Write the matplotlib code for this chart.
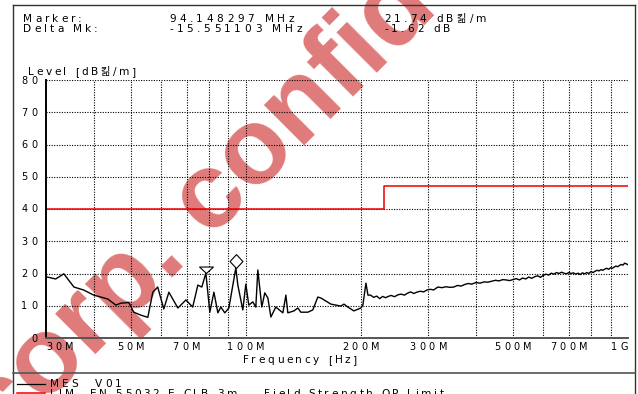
import matplotlib
matplotlib.use("Agg")
from matplotlib import pyplot as plt
from matplotlib.lines import Line2D
from matplotlib.path import Path
from matplotlib.ticker import NullLocator

# measured trace (MHz, dB)
freq_mhz = [
    30.0, 31.8, 33.4, 35.5, 37.6, 40.0, 43.5, 45.7, 47.1, 49.4,
    50.9, 53.1, 55.4, 57.1, 58.8, 61.0, 62.9, 66.4, 69.7, 72.6,
    74.9, 76.7, 78.597194, 80.5, 82.5, 84.5, 86.0, 88.1, 90.3, 94.148297,
    95.3, 98.2, 100.0, 101.8, 104.3, 106.2, 107.5, 110.1, 112.1, 114.2,
    116.3, 119.8, 125.0, 127.3, 128.8, 133.6, 136.8, 139.3, 145.3, 149.7,
    154.3, 157.2, 167.0, 177.3, 180.6, 184.9, 191.7, 200.0, 202.4, 206.2,
    208.7, 212.0, 216, 220, 224, 228, 232, 236, 240, 245,
    250, 255, 260, 265, 270, 275, 280, 286, 292, 298,
    304, 310, 318, 326, 334, 342, 350, 358, 366, 374,
    382, 390, 400, 410, 420, 430, 440, 450, 460, 470,
    480, 490, 500, 510, 520, 530, 540, 550, 560, 570,
    580, 590, 600, 610, 620, 630, 640, 650, 660, 670,
    680, 690, 700, 710, 720, 730, 740, 750, 760, 770,
    780, 790, 800, 810, 820, 830, 840, 850, 860, 870,
    880, 890, 900, 910, 920, 930, 940, 950, 960, 970,
    980, 990, 1000,
]
level_db = [
    19.0, 18.3, 19.9, 15.8, 14.9, 13.3, 12.1, 10.2, 10.8, 11.0,
    8.0, 7.1, 6.4, 14.2, 15.8, 9.0, 14.2, 9.3, 11.8, 9.6,
    16.4, 15.8, 20.12, 8.0, 14.2, 7.8, 9.6, 7.8, 9.3, 21.74,
    16.4, 8.7, 16.7, 10.2, 11.2, 9.6, 21.1, 9.6, 14.0, 12.4,
    6.5, 9.6, 7.8, 13.3, 7.8, 8.4, 9.3, 8.0, 8.0, 8.7,
    12.7, 12.4, 10.5, 9.9, 10.5, 9.6, 8.4, 9.3, 10.2, 17.0,
    13.3, 13.3, 12.6, 13.0, 12.2, 12.9, 12.5, 12.9, 13.2, 12.8,
    13.4, 13.6, 13.3, 13.9, 14.3, 13.8, 14.2, 14.5, 14.3, 14.9,
    15.1, 14.9, 15.8, 15.6, 15.9, 15.7, 15.8, 16.3, 16.1, 16.6,
    16.9, 16.7, 17.2, 17.0, 17.4, 17.3, 17.6, 17.9, 17.7, 18.1,
    18.0, 17.8, 18.1, 18.4, 18.0, 18.6, 18.3, 18.9, 18.5, 19.0,
    19.3, 18.8, 19.4, 19.8, 19.5, 20.1, 19.8, 20.3, 20.0, 20.4,
    20.1, 19.9, 20.3, 20.0, 20.2, 19.8, 20.1, 19.7, 20.2, 19.9,
    20.3, 20.0, 20.6, 20.3, 20.7, 21.0, 20.8, 21.2, 21.0, 21.4,
    21.6, 21.3, 21.8, 21.6, 22.0, 22.3, 22.1, 22.5, 22.8, 22.6,
    23.2, 23.0, 22.7,
]

# QP limit, EN 55032 class B at 3 m
limit_freq = [30, 230, 230, 1000]
limit_db = [40, 40, 47, 47]

marker_freq = 94.148297
marker_db = 21.74
delta_freq = -15.551103
delta_db = -1.62

grid_freqs = [40, 50, 60, 70, 80, 90, 100, 200, 300, 400, 500, 600, 700, 800, 900, 1000]
xtick_freqs = [30, 50, 70, 100, 200, 300, 500, 700, 1000]
xtick_labels = ["30M", "50M", "70M", "100M", "200M", "300M", "500M", "700M", "1G"]
ytick_values = [0, 10, 20, 30, 40, 50, 60, 70, 80]

unit = "dB" + b"\xb5V/m".decode("cp949")

W, H = 638, 394
FAMILY = ["DejaVu Sans", "Noto Sans CJK KR"]

fig = plt.figure(figsize=(W / 100, H / 100), dpi=100)
ax = fig.add_axes([46 / W, 1 - 338 / H, (628 - 46) / W, (338 - 80) / H])
ax.patch.set_alpha(0)
renderer = fig.canvas.get_renderer()


def fx(x):
    return x / W


def fy(y):
    return 1 - y / H


_adv = {}


def advance(c, size):
    if (c, size) not in _adv:
        def width(s):
            t = fig.text(0, 0, s, family=FAMILY, size=size)
            w = t.get_window_extent(renderer).width
            t.remove()
            return w
        _adv[(c, size)] = width("H" + c + "H") - width("HH")
    return _adv[(c, size)]


def spaced_text(x, y, s, size=7.6, track=3.0, ha="left", color="black"):
    # letter-spaced text, x/y in pixels from the top-left corner, y = baseline
    advs = [advance(c, size) for c in s]
    total = sum(advs) + track * (len(s) - 1)
    if ha == "center":
        x -= total / 2
    elif ha == "right":
        x -= total
    for c, a in zip(s, advs):
        if not c.isspace():
            fig.text(fx(x), fy(y), c, family=FAMILY, size=size, color=color,
                     ha="left", va="baseline")
        x += a + track


# plot area
ax.set_xscale("log")
ax.set_xlim(30, 1000)
ax.set_ylim(0, 80)
ax.set_xticks(grid_freqs)
ax.xaxis.set_minor_locator(NullLocator())
ax.set_yticks(ytick_values)
ax.tick_params(length=0, labelbottom=False, labelleft=False)
ax.grid(True, color="black", linestyle=(0, (1, 1.3)), linewidth=0.8)
for side in ("top", "right"):
    ax.spines[side].set_visible(False)
ax.spines["left"].set_color("black")
ax.spines["left"].set_linewidth(1.4)
ax.spines["bottom"].set_color("#555555")
ax.spines["bottom"].set_linewidth(1.4)

ax.plot(limit_freq, limit_db, color="#ee0000", linewidth=1.1)
ax.plot(freq_mhz, level_db, color="black", linewidth=1.0)

tri = Path([(-1, 0.93), (1, 0.93), (0, 0), (-1, 0.93)],
           [Path.MOVETO, Path.LINETO, Path.LINETO, Path.CLOSEPOLY])
diamond = Path([(0, 0), (-0.93, 1), (0, 2), (0.93, 1), (0, 0)],
               [Path.MOVETO, Path.LINETO, Path.LINETO, Path.LINETO, Path.CLOSEPOLY])
ax.plot([marker_freq + delta_freq], [marker_db + delta_db], marker=tri, markersize=10,
        markerfacecolor="white", markeredgecolor="black", markeredgewidth=0.8)
ax.plot([marker_freq], [marker_db], marker=diamond, markersize=20,
        markerfacecolor="white", markeredgecolor="black", markeredgewidth=0.8)

# axis labels drawn by hand so they can be letter-spaced
for v in ytick_values:
    y = H - ax.transData.transform((30, v))[1]
    spaced_text(37, y + 3.5, str(v), size=7.0, track=3.6, ha="right")
for f, lab in zip(xtick_freqs, xtick_labels):
    x = ax.transData.transform((f, 0))[0]
    ha = "left" if f == 30 else ("right" if f == 1000 else "center")
    spaced_text(x, 350.5, lab, size=7.0, track=3.6, ha=ha)
spaced_text(300, 363, "Frequency [Hz]", ha="center", track=2.6)
spaced_text(28, 75, "Level [" + unit + "]", track=2.6)

# header
spaced_text(23, 21.7, "Marker:")
spaced_text(23, 32.3, "Delta Mk:")
spaced_text(169, 21.7, f"{marker_freq:.6f} MHz", track=3.6)
spaced_text(169, 32.3, f"{delta_freq:.6f} MHz", track=3.6)
spaced_text(384, 21.7, f"{marker_db:.2f} {unit}", track=3.2)
spaced_text(384, 32.3, f"{delta_db:.2f} dB", track=3.2)

# legend rows
fig.add_artist(Line2D([fx(17), fx(45)], [fy(384), fy(384)], color="black", linewidth=0.9))
spaced_text(50, 386.7, "MES")
spaced_text(95, 386.7, "V01")
fig.add_artist(Line2D([fx(17), fx(45)], [fy(393), fy(393)], color="#ee0000", linewidth=1.1))
spaced_text(50, 397, "LIM")
spaced_text(90, 397, "EN 55032 E CLB 3m", track=2.6)
spaced_text(264, 397, "Field Strength QP Limit", track=2.6)

# page frame
frame = dict(color="#333333", linewidth=1.0)
fig.add_artist(Line2D([fx(13), fx(635)], [fy(5), fy(5)], **frame))
fig.add_artist(Line2D([fx(13), fx(13)], [fy(5), fy(394)], **frame))
fig.add_artist(Line2D([fx(635), fx(635)], [fy(5), fy(394)], **frame))
fig.add_artist(Line2D([fx(13), fx(635)], [fy(373), fy(373)], color="#555555", linewidth=1.2))

# watermark sits underneath the plot and the text
fig.text(0.0015, -0.1386, "corp. confidential", family="Liberation Sans", fontweight="bold",
         size=78, color="#df7a7a", rotation=45, rotation_mode="anchor",
         ha="left", va="baseline", zorder=-1)

fig.savefig("out.png", dpi=100)
